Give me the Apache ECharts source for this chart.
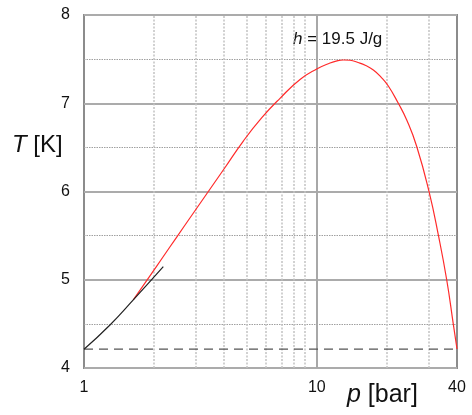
<!DOCTYPE html>
<html>
<head>
<meta charset="utf-8">
<script src="https://cdn.jsdelivr.net/npm/echarts@6/dist/echarts.min.js"></script>
<style>
html,body{margin:0;padding:0;background:#fff;}
#chart{width:472px;height:415px;}
</style>
</head>
<body>
<div id="chart"></div>
<script>
// Data (pressure p in bar, temperature T in K)
const pRed = [1.628, 1.884, 2.184, 2.502, 2.91, 3.42, 4.034, 4.834, 5.817, 6.949, 8.47, 9.99, 11.39, 12.21, 13.0, 13.89, 15.03, 16.22, 17.49, 18.87, 20.28, 22.39, 24.33, 26.86, 30.34, 33.32, 36.14, 38.58, 40];
const tRed = [4.771, 5.012, 5.258, 5.484, 5.734, 6.0, 6.272, 6.572, 6.839, 7.056, 7.269, 7.388, 7.456, 7.481, 7.49, 7.487, 7.462, 7.428, 7.377, 7.297, 7.195, 6.999, 6.81, 6.51, 5.998, 5.496, 4.997, 4.495, 4.215];
const pBlack = [1, 1.293, 1.628, 2.191];
const tBlack = [4.212, 4.487, 4.771, 5.148];
const tSat = 4.215;             // dashed line
const pRange = [1, 40];
const tRange = [4, 8];
const xTickLabels = [1, 10, 40];
const xMinorGrid = [2, 3, 4, 5, 6, 7, 8, 9, 20, 30];
const xMajorGrid = [10];
const curveLabel = '19.5 J/g';

const lx = v => Math.log10(v);
const toPts = (ps, ts) => ps.map((p, i) => [lx(p), ts[i]]);

const chart = echarts.init(document.getElementById('chart'), null, {renderer: 'canvas'});
const FONT = 'Liberation Sans, Arial, sans-serif';

const gridLines = [];
xMinorGrid.forEach(v => gridLines.push({xAxis: lx(v), lineStyle: {color: '#c2c2c2', width: 1.5, type: [2, 1.5]}}));
xMajorGrid.forEach(v => gridLines.push({xAxis: lx(v), lineStyle: {color: '#a8a8a8', width: 2, type: 'solid'}}));

chart.setOption({
  animation: false,
  grid: {left: 84, right: 15, top: 15, bottom: 47, show: true, borderColor: '#8c8c8c', borderWidth: 2, backgroundColor: 'transparent'},
  xAxis: {
    type: 'value',
    min: lx(pRange[0]), max: lx(pRange[1]),
    axisLine: {show: false},
    axisTick: {show: false},
    splitLine: {show: false},
    axisLabel: {
      customValues: xTickLabels.map(lx),
      formatter: v => String(Math.round(Math.pow(10, v))),
      fontSize: 16, color: '#111', fontFamily: FONT, margin: 12,
      showMinLabel: true, showMaxLabel: true
    }
  },
  yAxis: {
    type: 'value',
    min: tRange[0], max: tRange[1], interval: 1,
    axisLine: {show: false},
    axisTick: {show: false},
    minorTick: {show: false, splitNumber: 2},
    splitLine: {show: true, lineStyle: {color: '#ababab', width: 2}},
    minorSplitLine: {show: true, lineStyle: {color: '#a0a0a0', width: 1, type: [1.5, 1]}},
    axisLabel: {fontSize: 16, color: '#111', fontFamily: FONT, margin: 14}
  },
  series: [
    {
      type: 'line',
      data: [[lx(pRange[0]), tSat], [lx(pRange[1]), tSat]],
      symbol: 'none',
      lineStyle: {color: '#555', width: 1.3, type: [9, 6]},
      z: 3,
      markLine: {silent: true, symbol: 'none', label: {show: false}, data: gridLines, z: 1}
    },
    {
      type: 'line',
      data: toPts(pRed, tRed),
      symbol: 'none', smooth: 0.5,
      lineStyle: {color: '#ff2b2b', width: 1.2},
      z: 4
    },
    {
      type: 'line',
      data: toPts(pBlack, tBlack),
      symbol: 'none', smooth: 0.5,
      lineStyle: {color: '#222', width: 1.2},
      z: 5
    }
  ],
  graphic: [
    {
      type: 'text', left: 12, top: 133,
      style: {
        text: '{i|T} [K]',
        rich: {i: {fontStyle: 'italic', fontSize: 24, fontFamily: FONT, fill: '#111'}},
        fontSize: 24, fontFamily: FONT, fill: '#111'
      }
    },
    {
      type: 'text', left: 347, top: 383,
      style: {
        text: '{i|p} [bar]',
        rich: {i: {fontStyle: 'italic', fontSize: 25, fontFamily: FONT, fill: '#111'}},
        fontSize: 25, fontFamily: FONT, fill: '#111'
      }
    },
    {
      type: 'text', left: 293, top: 31,
      style: {
        text: '{i|h} = ' + curveLabel,
        rich: {i: {fontStyle: 'italic', fontSize: 17, fontFamily: FONT, fill: '#111'}},
        fontSize: 17, fontFamily: FONT, fill: '#111'
      }
    }
  ]
});
</script>
</body>
</html>
